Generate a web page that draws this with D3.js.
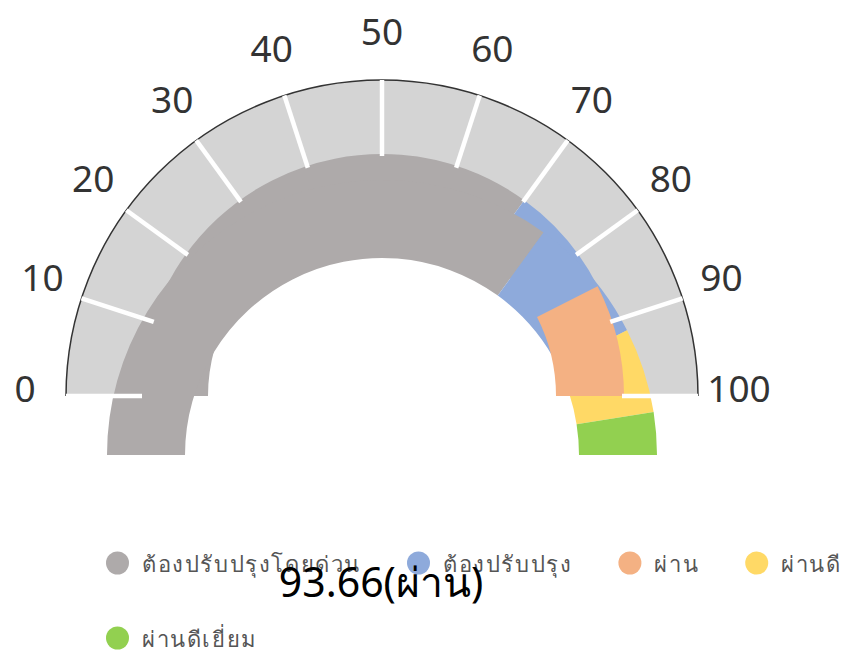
<!DOCTYPE html>
<html>
<head>
<meta charset="utf-8">
<script src="https://cdn.jsdelivr.net/npm/d3@7"></script>
<style>
  body { margin: 0; background: #fff; }
  svg { display: block; font-family: "Noto Sans", "DejaVu Sans", sans-serif; }
</style>
</head>
<body>
<div id="chart"></div>
<script>
const categories = ['ต้องปรับปรุงโดยด่วน', 'ต้องปรับปรุง', 'ผ่าน', 'ผ่านดี', 'ผ่านดีเยี่ยม'];
const colors = ['#aeaaaa', '#8eaadb', '#f4b183', '#ffd966', '#92d050'];

// two overlapping band rings: [category index, from, to]
const bandsUpper = [[0, 0, 70], [1, 70, 85], [2, 85, 100]];
const bandsLower = [[0, 0, 70], [1, 70, 85], [3, 85, 95], [4, 95, 100]];

const tickValues = [0, 10, 20, 30, 40, 50, 60, 70, 80, 90, 100];
const score = 93.66;
const scoreLabel = 'ผ่าน';

const WIDTH = 843;
const HEIGHT = 658;
const CX = 382;
const CY = 396;
const LOWER_SHIFT = 59;

const svg = d3.select('#chart')
              .append('svg')
              .attr('width', WIDTH)
              .attr('height', HEIGHT);

const angle = d3.scaleLinear()
                .domain([0, 100])
                .range([-Math.PI / 2, Math.PI / 2]);

const gauge = svg.append('g')
                 .attr('transform', `translate(${CX}, ${CY})`);

// background scale band
gauge.append('path')
     .attr('d', d3.arc()({innerRadius: 240, outerRadius: 316, startAngle: angle(0), endAngle: angle(100)}))
     .attr('fill', '#d4d4d4');

gauge.append('path')
     .attr('d', d3.arc()({innerRadius: 316, outerRadius: 316, startAngle: angle(0), endAngle: angle(100)}))
     .attr('fill', 'none')
     .attr('stroke', '#333')
     .attr('stroke-width', 1.5);

const drawBands = (bands, inner, outer, dy) => {
  const arc = d3.arc().innerRadius(inner).outerRadius(outer);
  gauge.append('g')
       .attr('transform', `translate(0, ${dy})`)
       .selectAll('path')
       .data(bands)
       .enter()
       .append('path')
       .attr('d', d => arc({startAngle: angle(d[1]), endAngle: angle(d[2])}))
       .attr('fill', d => colors[d[0]]);
};

// order matters: grey/blue of the upper ring sit under the lower ring, its salmon piece on top
drawBands(bandsUpper.filter(d => d[2] <= 85), 174, 242, 0);
drawBands(bandsLower, 197, 275, LOWER_SHIFT);
drawBands(bandsUpper.filter(d => d[2] > 85), 174, 242, 0);

// ticks
gauge.selectAll('line.tick')
     .data(tickValues)
     .enter()
     .append('line')
     .attr('class', 'tick')
     .attr('x1', d => 240 * Math.sin(angle(d)))
     .attr('y1', d => -240 * Math.cos(angle(d)))
     .attr('x2', d => 316 * Math.sin(angle(d)))
     .attr('y2', d => -316 * Math.cos(angle(d)))
     .attr('stroke', '#fff')
     .attr('stroke-width', 4.5);

gauge.selectAll('text.tick-label')
     .data(tickValues)
     .enter()
     .append('text')
     .attr('class', 'tick-label')
     .attr('x', d => 357 * Math.sin(angle(d)))
     .attr('y', d => -357 * Math.cos(angle(d)) - 9)
     .attr('text-anchor', 'middle')
     .attr('dominant-baseline', 'central')
     .attr('font-size', 37)
     .attr('fill', '#333')
     .text(d => d);

// legend
const legend = svg.append('g').attr('class', 'legend');
let lx = 106;
let ly = 563;
categories.forEach((name, i) => {
  const item = legend.append('g');
  item.append('circle')
      .attr('cx', 11.5)
      .attr('cy', 0)
      .attr('r', 11.5)
      .attr('fill', colors[i]);
  const txt = item.append('text')
                  .attr('x', 36)
                  .attr('y', 0)
                  .attr('dominant-baseline', 'central')
                  .attr('font-size', 22)
                  .attr('letter-spacing', 1.6)
                  .attr('fill', '#555')
                  .text(name);
  const w = 36 + txt.node().getComputedTextLength();
  if (lx + 60 > WIDTH) {
    lx = 106;
    ly += 75;
  }
  item.attr('transform', `translate(${lx}, ${ly})`);
  lx += w + 46;
});

svg.append('text')
   .attr('x', 381)
   .attr('y', 597)
   .attr('text-anchor', 'middle')
   .attr('font-size', 41)
   .attr('fill', '#000')
   .text(`${score}(${scoreLabel})`);
</script>
</body>
</html>
